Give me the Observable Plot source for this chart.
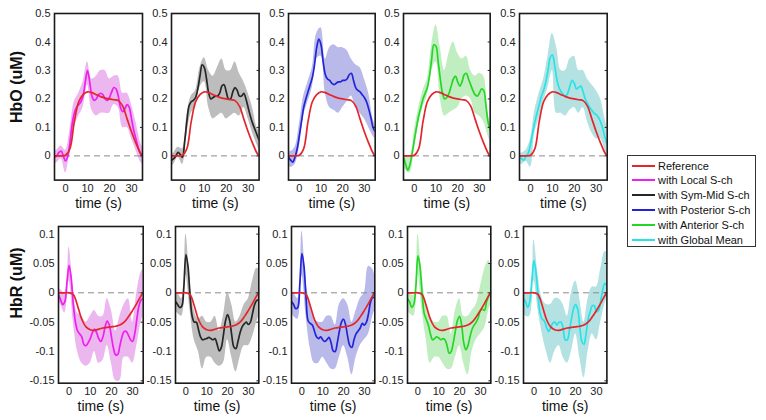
<!DOCTYPE html>
<html>
<head>
<meta charset="utf-8">
<script src="https://cdn.jsdelivr.net/npm/d3@7"></script>
<script src="https://cdn.jsdelivr.net/npm/@observablehq/plot@0.6"></script>
<style>
  html, body { margin: 0; padding: 0; background: #fff; }
  #root { position: relative; width: 766px; height: 420px; overflow: hidden; background: #fff; font-family: "Liberation Sans", Arial, sans-serif; }
  .pan { position: absolute; }
  .ytitle { position: absolute; width: 120px; height: 20px; line-height: 20px; text-align: center; font-size: 16px; font-weight: bold; color: #111; transform: rotate(-90deg); transform-origin: 50% 50%; white-space: nowrap; }
  #legend { position: absolute; left: 627px; top: 155px; width: 127px; height: 90px; border: 1.5px solid #333; background: #fff; }
  .lrow { position: absolute; left: 0; width: 127px; height: 14px; font-size: 11px; color: #111; white-space: nowrap; }
  .lrow .sw { position: absolute; left: 4px; top: 6px; width: 23px; height: 2px; }
  .lrow .tx { position: absolute; left: 30px; top: 0; line-height: 14px; }
</style>
</head>
<body>
<div id="root"></div>
<script>
// ---------- data ----------
const T1 = [-5,-4,-3,-2,-1,0,1,2,3,4,5,6,7,8,9,10,11,12,13,14,15,16,17,18,19,20,21,22,23,24,25,26,27,28,29,30,31,32,33,34,35];
const T2 = [-5,-4,-2,0,2,4,6,8,10,12,14,16,18,20,22,24,26,28,30,32,34,35];

const methods = ["with Local S-ch","with Sym-Mid S-ch","with Posterior S-ch","with Anterior S-ch","with Global Mean"];
const lineColors = ["#f01ef0","#262626","#2323d8","#26d626","#26e3e8"];
const bandColors = ["#ecb6ef","#bdbdbd","#babaea","#c0eec0","#b4e2e2"];
const refColor = "#e3262b";
const legendLabels = ["Reference"].concat(methods);
const legendColors = [refColor].concat(lineColors);
const rowTitles = ["HbO (uM)", "HbR (uM)"];

const xTicks = [0,10,20,30];
const hboTicks = [0,0.1,0.2,0.3,0.4,0.5];
const hbrTicks = [-0.15,-0.1,-0.05,0,0.05,0.1];

// Reference (sampled on T2)
const refHbO = [0,0,0,0.002,0.025,0.12,0.19,0.215,0.225,0.222,0.215,0.208,0.203,0.2,0.197,0.194,0.175,0.13,0.085,0.045,0.01,0];
const refHbR = [0,0,0,0,-0.003,-0.022,-0.045,-0.058,-0.063,-0.064,-0.062,-0.06,-0.059,-0.058,-0.057,-0.055,-0.05,-0.041,-0.03,-0.018,-0.005,0];

// HbO means (T1)
const localHbO = [-0.005,0.0,0.012,0.017,0.0,-0.018,-0.002,0.045,0.11,0.15,0.17,0.18,0.19,0.21,0.26,0.30,0.26,0.21,0.195,0.2,0.215,0.22,0.215,0.2,0.195,0.205,0.225,0.24,0.235,0.21,0.17,0.155,0.165,0.18,0.17,0.13,0.09,0.06,0.03,0.01,0.0];
const symHbO = [-0.015,-0.01,0.0,0.012,0.005,-0.005,0.05,0.12,0.175,0.19,0.195,0.205,0.235,0.28,0.32,0.31,0.27,0.22,0.2,0.205,0.21,0.21,0.22,0.245,0.25,0.225,0.2,0.2,0.225,0.24,0.23,0.21,0.21,0.22,0.2,0.17,0.14,0.115,0.095,0.075,0.055];
const postHbO = [-0.005,-0.015,-0.022,-0.005,0.025,0.07,0.12,0.17,0.2,0.225,0.25,0.275,0.32,0.38,0.41,0.39,0.33,0.285,0.27,0.265,0.255,0.25,0.255,0.26,0.26,0.265,0.265,0.27,0.285,0.29,0.265,0.24,0.23,0.225,0.215,0.205,0.19,0.165,0.135,0.1,0.085];
const antHbO = [-0.005,-0.03,-0.05,-0.03,0.01,0.055,0.1,0.14,0.17,0.2,0.22,0.24,0.28,0.34,0.39,0.385,0.33,0.27,0.22,0.2,0.205,0.22,0.245,0.27,0.28,0.26,0.245,0.26,0.285,0.29,0.27,0.25,0.23,0.215,0.21,0.22,0.235,0.23,0.18,0.12,0.09];
const gloHbO = [-0.005,-0.01,-0.015,0.0,0.01,0.04,0.08,0.12,0.15,0.18,0.21,0.23,0.26,0.3,0.345,0.355,0.32,0.27,0.24,0.225,0.215,0.21,0.22,0.245,0.265,0.255,0.235,0.24,0.245,0.225,0.2,0.185,0.17,0.16,0.15,0.145,0.135,0.12,0.095,0.065,0.04];

// HbO bands (T2)
const localHbOLo = [-0.03,-0.025,-0.01,-0.06,0.01,0.1,0.14,0.17,0.25,0.16,0.14,0.15,0.15,0.15,0.18,0.17,0.1,0.1,0.06,0.02,-0.02,-0.03];
const localHbOHi = [0.015,0.02,0.035,0.02,0.09,0.19,0.22,0.26,0.33,0.27,0.28,0.3,0.3,0.27,0.28,0.28,0.22,0.22,0.18,0.12,0.05,0.03];
const symHbOLo = [-0.035,-0.03,-0.005,-0.03,0.07,0.15,0.17,0.24,0.26,0.17,0.13,0.14,0.15,0.13,0.14,0.15,0.14,0.17,0.13,0.08,0.04,0.02];
const symHbOHi = [0.005,0.01,0.03,0.025,0.14,0.21,0.23,0.31,0.345,0.3,0.28,0.31,0.34,0.3,0.3,0.33,0.29,0.26,0.22,0.17,0.1,0.09];
const postHbOLo = [-0.035,-0.04,-0.03,0.03,0.14,0.19,0.24,0.34,0.35,0.22,0.17,0.16,0.15,0.17,0.19,0.21,0.17,0.15,0.13,0.1,0.07,0.06];
const postHbOHi = [0.02,0.015,0.03,0.11,0.21,0.26,0.31,0.43,0.45,0.34,0.38,0.39,0.38,0.38,0.37,0.34,0.32,0.31,0.27,0.22,0.13,0.11];
const antHbOLo = [-0.03,-0.05,-0.06,0.02,0.11,0.17,0.21,0.3,0.33,0.2,0.14,0.15,0.16,0.17,0.2,0.21,0.2,0.15,0.14,0.12,0.07,0.05];
const antHbOHi = [0.02,0.0,0.0,0.09,0.17,0.23,0.27,0.39,0.46,0.38,0.3,0.36,0.4,0.36,0.34,0.35,0.3,0.28,0.29,0.28,0.15,0.12];
const gloHbOLo = [-0.025,-0.03,-0.02,-0.04,0.08,0.13,0.19,0.24,0.3,0.15,0.15,0.14,0.16,0.17,0.15,0.17,0.12,0.08,0.06,0.06,0.02,0.0];
const gloHbOHi = [0.01,0.01,0.02,0.06,0.16,0.22,0.27,0.35,0.43,0.38,0.3,0.3,0.34,0.35,0.3,0.3,0.27,0.25,0.23,0.2,0.13,0.1];

// HbR means (T1)
const localHbR = [-0.003,-0.012,-0.02,-0.015,0.018,0.047,0.025,-0.02,-0.05,-0.065,-0.07,-0.075,-0.088,-0.09,-0.085,-0.078,-0.068,-0.062,-0.068,-0.078,-0.083,-0.075,-0.058,-0.048,-0.055,-0.075,-0.095,-0.106,-0.105,-0.09,-0.075,-0.066,-0.066,-0.072,-0.08,-0.083,-0.07,-0.045,-0.022,-0.012,-0.01];
const symHbR = [-0.015,-0.02,-0.025,-0.023,0.01,0.065,0.045,-0.005,-0.04,-0.05,-0.05,-0.062,-0.075,-0.08,-0.079,-0.078,-0.076,-0.078,-0.08,-0.078,-0.088,-0.099,-0.093,-0.072,-0.048,-0.037,-0.047,-0.072,-0.092,-0.095,-0.083,-0.068,-0.058,-0.053,-0.05,-0.054,-0.05,-0.035,-0.02,-0.013,-0.012];
const postHbR = [-0.015,-0.02,-0.027,-0.025,0.015,0.067,0.045,-0.01,-0.048,-0.052,-0.055,-0.065,-0.075,-0.078,-0.075,-0.08,-0.083,-0.08,-0.076,-0.085,-0.099,-0.1,-0.085,-0.065,-0.05,-0.045,-0.055,-0.075,-0.09,-0.093,-0.08,-0.07,-0.065,-0.06,-0.052,-0.055,-0.05,-0.035,-0.015,-0.008,-0.008];
const antHbR = [-0.01,-0.015,-0.025,-0.02,0.01,0.063,0.045,0.0,-0.035,-0.045,-0.055,-0.07,-0.08,-0.078,-0.075,-0.077,-0.08,-0.078,-0.08,-0.09,-0.103,-0.1,-0.085,-0.065,-0.047,-0.04,-0.055,-0.085,-0.097,-0.09,-0.075,-0.062,-0.055,-0.05,-0.042,-0.03,-0.028,-0.03,-0.015,-0.005,0.0];
const gloHbR = [-0.01,-0.015,-0.025,-0.015,0.02,0.055,0.035,-0.005,-0.035,-0.045,-0.048,-0.058,-0.066,-0.06,-0.052,-0.05,-0.055,-0.05,-0.05,-0.06,-0.08,-0.08,-0.065,-0.045,-0.027,-0.02,-0.028,-0.058,-0.083,-0.088,-0.07,-0.045,-0.032,-0.022,-0.022,-0.032,-0.03,-0.015,0.005,0.016,0.012];

// HbR bands (T2)
const localHbRLo = [-0.015,-0.02,-0.035,0.02,-0.05,-0.1,-0.12,-0.125,-0.12,-0.1,-0.12,-0.115,-0.09,-0.12,-0.15,-0.15,-0.11,-0.11,-0.12,-0.09,-0.05,-0.04];
const localHbRHi = [0.008,0.005,0.0,0.078,0.005,-0.035,-0.04,-0.05,-0.04,-0.03,-0.04,-0.04,-0.01,-0.03,-0.065,-0.04,-0.02,-0.01,-0.05,0.0,0.035,0.04];
const symHbRLo = [-0.03,-0.035,-0.04,0.03,-0.03,-0.08,-0.1,-0.13,-0.11,-0.11,-0.12,-0.125,-0.12,-0.08,-0.11,-0.135,-0.11,-0.09,-0.09,-0.075,-0.05,-0.04];
const symHbRHi = [0.0,0.0,-0.01,0.1,0.02,-0.03,-0.045,-0.04,-0.05,-0.05,-0.04,-0.065,-0.04,0.0,-0.02,-0.05,-0.04,-0.02,-0.01,0.02,0.042,0.04];
const postHbRLo = [-0.035,-0.04,-0.045,0.03,-0.04,-0.095,-0.12,-0.12,-0.11,-0.12,-0.13,-0.13,-0.11,-0.09,-0.11,-0.14,-0.11,-0.09,-0.08,-0.07,-0.04,-0.03];
const postHbRHi = [0.0,0.0,-0.01,0.105,0.02,-0.02,-0.045,-0.05,-0.05,-0.04,-0.04,-0.055,-0.02,-0.01,-0.02,-0.05,-0.03,-0.01,0.0,0.045,0.04,0.03];
const antHbRLo = [-0.03,-0.035,-0.04,0.03,-0.03,-0.08,-0.12,-0.11,-0.11,-0.12,-0.13,-0.13,-0.11,-0.09,-0.12,-0.14,-0.1,-0.08,-0.07,-0.06,-0.03,-0.02];
const antHbRHi = [0.0,0.0,-0.005,0.1,0.03,-0.02,-0.04,-0.05,-0.05,-0.04,-0.04,-0.07,-0.03,-0.01,-0.04,-0.04,-0.03,-0.02,0.01,0.04,0.055,0.045];
const gloHbRLo = [-0.03,-0.04,-0.04,0.02,-0.03,-0.07,-0.1,-0.12,-0.1,-0.09,-0.11,-0.12,-0.1,-0.07,-0.11,-0.145,-0.1,-0.07,-0.08,-0.05,-0.02,-0.01];
const gloHbRHi = [0.0,0.0,0.0,0.09,0.03,-0.01,-0.02,-0.02,-0.01,-0.01,-0.02,-0.04,0.0,0.02,-0.01,-0.05,-0.01,0.01,0.01,0.04,0.07,0.07];

// ---------- layout ----------
const rows = [
  { ydom: [-0.085, 0.5], ticks: hboTicks, ref: refHbO, top: 12.7, bottom: 179.3, titleY: 87,
    frames: [[54.3,142.3],[170.7,258.3],[288.3,375],[403.3,490],[519,606.7]],
    means: [localHbO, symHbO, postHbO, antHbO, gloHbO],
    los: [localHbOLo, symHbOLo, postHbOLo, antHbOLo, gloHbOLo],
    his: [localHbOHi, symHbOHi, postHbOHi, antHbOHi, gloHbOHi] },
  { ydom: [-0.154, 0.113], ticks: hbrTicks, ref: refHbR, top: 226, bottom: 382.7, titleY: 282.5,
    frames: [[58,142.7],[175,258.3],[291,374.3],[406.7,490],[523.3,606.7]],
    means: [localHbR, symHbR, postHbR, antHbR, gloHbR],
    los: [localHbRLo, symHbRLo, postHbRLo, antHbRLo, gloHbRLo],
    his: [localHbRHi, symHbRHi, postHbRHi, antHbRHi, gloHbRHi] }
];

const root = document.getElementById("root");
const FONT = "'Liberation Sans', Arial, sans-serif";

rows.forEach((row, ri) => {
  const refData = T2.map((t, i) => ({ t, v: row.ref[i] }));
  row.frames.forEach(([fl, fr], k) => {
    const ml = 40, mr = 4, mt = 6, mb = 36;
    const fw = fr - fl, fh = row.bottom - row.top;
    const meanData = T1.map((t, i) => ({ t, v: row.means[k][i] }));
    const bandData = T2.map((t, i) => ({ t, lo: row.los[k][i], hi: row.his[k][i] }));
    const svg = Plot.plot({
      width: ml + fw + mr,
      height: mt + fh + mb,
      marginLeft: ml, marginRight: mr, marginTop: mt, marginBottom: mb,
      style: { background: "transparent", fontFamily: FONT, overflow: "visible" },
      x: { domain: [-5, 35] },
      y: { domain: row.ydom },
      marks: [
        Plot.areaY(bandData, { x: "t", y1: "lo", y2: "hi", fill: bandColors[k], curve: "catmull-rom", clip: true }),
        Plot.ruleY([0], { stroke: "#8a8a8a", strokeWidth: 1, strokeDasharray: "6,4" }),
        Plot.line(meanData, { x: "t", y: "v", stroke: lineColors[k], strokeWidth: 1.7, curve: "catmull-rom", clip: true }),
        Plot.line(refData, { x: "t", y: "v", stroke: refColor, strokeWidth: 1.7, curve: "catmull-rom", clip: true }),
        Plot.frame({ stroke: "#1a1a1a", strokeWidth: 1.6 }),
        Plot.axisX({ ticks: xTicks, tickSize: 0, tickPadding: 4, tickFormat: d => String(d), label: null, fontSize: 11, fill: "#222" }),
        Plot.axisY({ ticks: row.ticks, tickSize: 0, tickPadding: 4, tickFormat: d => String(d), label: null, fontSize: 11, fill: "#222" }),
        Plot.axisY({ anchor: "right", ticks: row.ticks, tickSize: -3, tickFormat: () => "", label: null, stroke: "#222" }),
        Plot.text(["time (s)"], { text: d => d, frameAnchor: "bottom", dy: 23.5, lineAnchor: "middle", fontSize: 14, fill: "#111" })
      ]
    });
    const div = document.createElement("div");
    div.className = "pan";
    div.style.left = (fl - ml) + "px";
    div.style.top = (row.top - mt) + "px";
    div.appendChild(svg);
    root.appendChild(div);
  });
  // row title (y-axis label)
  const t = document.createElement("div");
  t.className = "ytitle";
  t.textContent = rowTitles[ri];
  t.style.left = (17 - 60) + "px";
  t.style.top = (row.titleY - 10) + "px";
  root.appendChild(t);
});

// ---------- legend ----------
const legend = document.createElement("div");
legend.id = "legend";
legendLabels.forEach((lab, i) => {
  const r = document.createElement("div");
  r.className = "lrow";
  r.style.top = (2.5 + i * 14.8) + "px";
  const sw = document.createElement("div");
  sw.className = "sw";
  sw.style.background = legendColors[i];
  const tx = document.createElement("div");
  tx.className = "tx";
  tx.textContent = lab;
  r.appendChild(sw); r.appendChild(tx);
  legend.appendChild(r);
});
root.appendChild(legend);
</script>
</body>
</html>
